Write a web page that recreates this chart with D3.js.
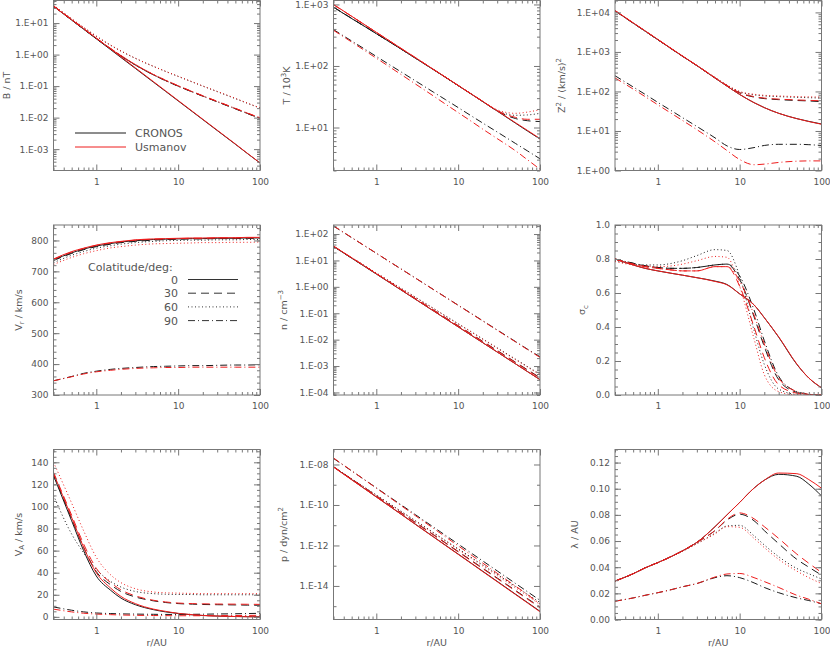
<!DOCTYPE html>
<html>
<head>
<meta charset="utf-8">
<script src="https://cdn.jsdelivr.net/npm/d3@7"></script>
<style>
body { margin: 0; background: #fff; }
svg text { font-family: "DejaVu Sans", sans-serif; fill: #555; }
</style>
</head>
<body>
<div id="chart"></div>
<script>
const width = 830, height = 648;

// heliocentric distances (AU) at which every profile is sampled
const radii = [0.3, 0.5, 0.7, 1, 1.5, 2, 3, 5, 7, 10, 15, 20, 30, 50, 70, 100];
const colatitudes = ["0", "30", "60", "90"];
const models = ["CRONOS", "Usmanov"];

// each panel: one row per colatitude (0, 30, 60, 90 deg)
const bCronos = [
	[34, 12.4, 6.4, 3.17, 1.43, 0.81, 0.364, 0.133, 0.0686, 0.034, 0.0153, 0.00867, 0.0039, 0.00143, 7.3e-4, 3.64e-4],
	[34.8, 12.6, 6.51, 3.26, 1.52, 0.911, 0.47, 0.227, 0.15, 0.1, 0.0649, 0.0482, 0.0319, 0.0191, 0.0136, 0.0095],
	[36.5, 13.5, 7.19, 3.8, 1.96, 1.29, 0.757, 0.42, 0.293, 0.203, 0.134, 0.1, 0.0668, 0.04, 0.0286, 0.02],
	[34.5, 12.5, 6.45, 3.22, 1.5, 0.9, 0.465, 0.225, 0.149, 0.099, 0.0645, 0.048, 0.0318, 0.019, 0.0135, 0.0094]
];
const bUsmanov = [
	[34, 12.8, 6.7, 3.35, 1.5, 0.85, 0.38, 0.138, 0.071, 0.035, 0.0157, 0.0089, 0.004, 0.00146, 7.4e-4, 3.65e-4],
	[35, 12.8, 6.6, 3.3, 1.55, 0.93, 0.48, 0.232, 0.153, 0.102, 0.066, 0.049, 0.0325, 0.0195, 0.0139, 0.0098],
	[37, 13.8, 7.35, 3.9, 2.0, 1.31, 0.77, 0.425, 0.296, 0.205, 0.136, 0.101, 0.068, 0.041, 0.029, 0.0205],
	[35.2, 12.9, 6.65, 3.32, 1.56, 0.94, 0.485, 0.234, 0.155, 0.103, 0.067, 0.0495, 0.033, 0.0197, 0.014, 0.0099]
];

const tCronos = [
	[900, 590, 450, 335, 240, 189, 134, 87, 65.5, 48, 33.8, 26.3, 18.5, 11.8, 8.8, 6.5],
	[910, 595, 452, 337, 241, 190, 135, 87.5, 65.5, 48.2, 34, 26.5, 18.6, 14.0, 12.9, 12.5],
	[905, 592, 451, 336, 240, 189, 134, 87.2, 65.5, 48.1, 34, 26.5, 18.9, 15.8, 16, 17],
	[390, 255, 193, 143, 102, 80.4, 57.4, 37.5, 28.4, 21.1, 15.0, 11.8, 8.45, 5.52, 4.18, 3.1]
];
const tUsmanov = [
	[1000, 643, 481, 353, 249, 194, 137, 87.9, 65.8, 48.3, 34, 26.5, 18.7, 12, 9, 6.6],
	[990, 640, 479, 352, 248, 193.5, 136.5, 87.8, 65.8, 48.3, 34, 26.6, 18.8, 14.6, 13.6, 13.6],
	[995, 641, 480, 352, 248, 194, 137, 88, 65.9, 48.4, 34.1, 26.7, 19.4, 17.0, 17.8, 19.5],
	[380, 245, 183, 134, 94, 73, 51, 32.5, 24, 17.5, 12.2, 9.4, 6.6, 4.2, 3.0, 2.1]
];

const zCronos = [
	[11000, 5370, 3370, 2050, 1160, 780, 450, 218, 136, 84, 52, 39, 28, 20.5, 17.5, 15],
	[10900, 5350, 3360, 2040, 1155, 778, 450, 220, 140, 92, 72, 66, 62, 59, 57.5, 55],
	[10800, 5330, 3350, 2035, 1150, 776, 452, 224, 144, 98, 82, 77, 74, 71, 69.5, 68],
	[250, 130, 84.5, 53, 31.6, 21.8, 13, 6.7, 4.2, 3.4, 3.8, 4.3, 4.6, 4.6, 4.5, 4.3]
];
const zUsmanov = [
	[11200, 5450, 3420, 2080, 1175, 790, 455, 220, 137, 84, 52, 39, 28, 20.5, 17.3, 14.8],
	[11100, 5420, 3400, 2070, 1170, 786, 454, 222, 141, 93, 74, 68, 64, 61, 59.5, 58],
	[11000, 5400, 3390, 2060, 1165, 784, 455, 226, 146, 100, 85, 80, 77, 74, 73, 72],
	[220, 115, 74, 46, 27, 18.5, 10.8, 5.3, 3.2, 1.9, 1.4, 1.45, 1.6, 1.72, 1.75, 1.75]
];

const vrCronos = [
	[737, 760, 772, 782, 790, 795, 799, 803, 804, 805, 806, 806, 807, 807, 808, 808],
	[735, 758, 770, 780, 788, 793, 797, 801, 803, 804, 805, 805, 806, 806, 807, 807],
	[728, 752, 764, 775, 783, 788, 793, 797, 799, 800, 801, 801, 802, 802, 803, 803],
	[346, 360, 370, 377, 383, 386, 389, 392, 393, 394, 395, 395, 396, 397, 397, 398]
];
const vrUsmanov = [
	[740, 764, 775, 785, 793, 797, 802, 805, 806, 807, 808, 808, 809, 809, 810, 810],
	[739, 762, 774, 784, 792, 796, 801, 804, 805, 806, 807, 807, 808, 808, 809, 809],
	[722, 745, 757, 767, 776, 780, 785, 789, 790, 791, 792, 793, 793, 794, 794, 795],
	[346, 359, 368, 375, 380, 383, 386, 388, 389, 389, 390, 390, 390, 390, 390, 390]
];

const nCronos = [
	[34, 12.2, 6.24, 3.06, 1.36, 0.765, 0.34, 0.122, 0.0624, 0.0306, 0.0136, 0.00765, 0.0034, 0.00122, 6.24e-4, 3.06e-4],
	[34, 12.3, 6.35, 3.15, 1.42, 0.8, 0.36, 0.132, 0.068, 0.0337, 0.0152, 0.0086, 0.00388, 0.00141, 7.3e-4, 3.65e-4],
	[34, 12.7, 6.7, 3.36, 1.55, 0.89, 0.408, 0.153, 0.08, 0.0405, 0.0186, 0.0107, 0.0049, 0.00184, 9.7e-4, 4.9e-4],
	[200, 73, 37.7, 18.7, 8.4, 4.79, 2.16, 0.789, 0.408, 0.202, 0.0912, 0.0518, 0.0233, 0.00853, 0.0044, 0.00225]
];
const nUsmanov = [
	[35, 12.6, 6.4, 3.12, 1.38, 0.775, 0.343, 0.123, 0.0627, 0.0307, 0.0136, 0.00766, 0.0034, 0.00122, 6.2e-4, 3.05e-4],
	[35, 12.7, 6.5, 3.2, 1.43, 0.805, 0.36, 0.131, 0.067, 0.0332, 0.0149, 0.0084, 0.00377, 0.00137, 7.0e-4, 3.5e-4],
	[34.5, 12.8, 6.7, 3.33, 1.53, 0.875, 0.4, 0.149, 0.078, 0.0392, 0.018, 0.0103, 0.0047, 0.00176, 9.2e-4, 4.6e-4],
	[205, 74, 38, 18.8, 8.4, 4.78, 2.15, 0.783, 0.404, 0.199, 0.0895, 0.0507, 0.0227, 0.0083, 0.00426, 0.00212]
];

const scCronos = [
	[0.80, 0.765, 0.745, 0.73, 0.715, 0.705, 0.69, 0.67, 0.65, 0.595, 0.53, 0.455, 0.34, 0.18, 0.10, 0.042],
	[0.80, 0.775, 0.76, 0.75, 0.745, 0.745, 0.75, 0.765, 0.77, 0.68, 0.46, 0.285, 0.09, 0.015, 0.003, 0],
	[0.79, 0.77, 0.765, 0.765, 0.775, 0.79, 0.82, 0.855, 0.85, 0.70, 0.38, 0.18, 0.035, 0.003, 0, 0],
	[0.80, 0.775, 0.76, 0.75, 0.745, 0.745, 0.75, 0.765, 0.77, 0.70, 0.50, 0.32, 0.11, 0.02, 0.005, 0]
];
const scUsmanov = [
	[0.80, 0.765, 0.745, 0.73, 0.715, 0.705, 0.69, 0.668, 0.648, 0.595, 0.53, 0.455, 0.342, 0.182, 0.10, 0.043],
	[0.80, 0.77, 0.755, 0.745, 0.735, 0.73, 0.73, 0.755, 0.755, 0.64, 0.40, 0.22, 0.06, 0.01, 0, 0],
	[0.785, 0.765, 0.76, 0.755, 0.76, 0.77, 0.79, 0.815, 0.81, 0.64, 0.33, 0.12, 0.02, 0, 0, 0],
	[0.80, 0.77, 0.755, 0.745, 0.735, 0.73, 0.73, 0.755, 0.755, 0.67, 0.47, 0.30, 0.10, 0.02, 0.004, 0]
];

const vaCronos = [
	[128, 87, 60, 37, 24, 17, 11, 6.5, 4.5, 3, 1.8, 1.2, 0.7, 0.3, 0.15, 0.1],
	[129, 89, 63, 41, 29, 23, 18, 14.5, 13, 12, 11.5, 11.2, 11, 10.8, 10.6, 10.5],
	[110, 75, 58, 43, 32, 27, 23, 21, 20.5, 20.3, 20.2, 20, 20, 20, 20, 20],
	[9, 6, 4.5, 3.5, 3, 2.7, 2.5, 2.3, 2.2, 2.2, 2.3, 2.4, 2.6, 2.8, 3.0, 3.2]
];
const vaUsmanov = [
	[130, 90, 63, 40, 26, 18.5, 12, 7, 5, 3.2, 2, 1.3, 0.7, 0.3, 0.1, 0],
	[131, 92, 66, 44, 31, 24.5, 19, 15, 13.5, 12.5, 12, 11.8, 11.6, 11.5, 11.4, 11.3],
	[140, 103, 78, 54, 38, 31, 25.5, 22.5, 21.8, 21.5, 21.2, 21, 21, 21, 21, 21],
	[7, 4.5, 3.3, 2.5, 2, 1.7, 1.4, 1.2, 1.1, 1, 1, 1, 1.1, 1.2, 1.3, 1.4]
];

const pCronos = [
	[7.6e-9, 1.79e-9, 6.93e-10, 2.52e-10, 8.04e-11, 3.56e-11, 1.13e-11, 2.67e-12, 1.03e-12, 3.77e-13, 1.2e-13, 5.31e-14, 1.69e-14, 3.97e-15, 1.54e-15, 5.6e-16],
	[7.8e-9, 1.9e-9, 7.57e-10, 2.83e-10, 9.3e-11, 4.22e-11, 1.38e-11, 3.4e-12, 1.35e-12, 5.05e-13, 1.66e-13, 7.5e-14, 2.47e-14, 6.05e-15, 2.4e-15, 9e-16],
	[7.8e-9, 1.99e-9, 8.15e-10, 3.15e-10, 1.07e-10, 4.99e-11, 1.7e-11, 4.36e-12, 1.78e-12, 6.9e-13, 2.35e-13, 1.09e-13, 3.72e-14, 9.53e-15, 3.9e-15, 1.51e-15],
	[2e-8, 4.82e-9, 1.9e-9, 7.03e-10, 2.28e-10, 1.03e-10, 3.33e-11, 8.04e-12, 3.16e-12, 1.17e-12, 3.8e-13, 1.71e-13, 5.55e-14, 1.34e-14, 5.26e-15, 1.95e-15]
];
const pUsmanov = [
	[7.4e-9, 1.75e-9, 6.8e-10, 2.47e-10, 7.9e-11, 3.5e-11, 1.1e-11, 2.6e-12, 1.0e-12, 3.65e-13, 1.16e-13, 5.1e-14, 1.62e-14, 3.8e-15, 1.47e-15, 5.3e-16],
	[7.7e-9, 1.87e-9, 7.4e-10, 2.75e-10, 9.0e-11, 4.08e-11, 1.33e-11, 3.27e-12, 1.29e-12, 4.8e-13, 1.57e-13, 7.1e-14, 2.33e-14, 5.7e-15, 2.25e-15, 8.4e-16],
	[7.6e-9, 1.93e-9, 7.85e-10, 3.0e-10, 1.01e-10, 4.7e-11, 1.59e-11, 4.0e-12, 1.62e-12, 6.2e-13, 2.1e-13, 9.6e-14, 3.25e-14, 8.2e-15, 3.3e-15, 1.2e-15],
	[2.1e-8, 4.9e-9, 1.88e-9, 6.8e-10, 2.15e-10, 9.4e-11, 2.98e-11, 6.95e-12, 2.67e-12, 9.6e-13, 3.04e-13, 1.34e-13, 4.23e-14, 9.9e-15, 3.8e-15, 1.3e-15]
];

const lamCronos = [
	[0.0294, 0.035, 0.0395, 0.0435, 0.0485, 0.0525, 0.059, 0.071, 0.08, 0.0895, 0.1005, 0.1065, 0.111, 0.1095, 0.1035, 0.0945],
	[0.0294, 0.035, 0.0395, 0.0435, 0.0485, 0.0525, 0.059, 0.068, 0.076, 0.0805, 0.0755, 0.068, 0.058, 0.046, 0.04, 0.034],
	[0.0294, 0.035, 0.0395, 0.0435, 0.0485, 0.0522, 0.058, 0.066, 0.0715, 0.072, 0.064, 0.057, 0.048, 0.039, 0.035, 0.031],
	[0.014, 0.0165, 0.0185, 0.0205, 0.023, 0.025, 0.0275, 0.032, 0.0335, 0.032, 0.028, 0.0245, 0.0205, 0.0165, 0.0145, 0.012]
];
const lamUsmanov = [
	[0.0294, 0.035, 0.0395, 0.0435, 0.0485, 0.0525, 0.059, 0.071, 0.08, 0.0895, 0.1005, 0.1065, 0.112, 0.1115, 0.107, 0.1004],
	[0.0294, 0.035, 0.0395, 0.0435, 0.0485, 0.0525, 0.059, 0.068, 0.0765, 0.0815, 0.077, 0.071, 0.062, 0.05, 0.043, 0.036],
	[0.0294, 0.035, 0.0395, 0.0435, 0.0485, 0.0522, 0.058, 0.0655, 0.071, 0.0705, 0.062, 0.055, 0.046, 0.037, 0.032, 0.0275],
	[0.014, 0.0165, 0.0185, 0.0205, 0.023, 0.025, 0.0275, 0.0325, 0.0348, 0.0352, 0.032, 0.029, 0.0245, 0.0185, 0.0155, 0.012]
];

// axis ranges and tick labels
const xDomain = [0.3, 100];
const xTicks = [1, 10, 100];
const bDomain = [2.1e-4, 52], bTicks = [1e1, 1e0, 1e-1, 1e-2, 1e-3];
const tDomain = [2, 1160], tTicks = [1e3, 1e2, 1e1];
const zDomain = [1, 2e4], zTicks = [1e4, 1e3, 1e2, 1e1, 1e0];
const vrDomain = [300, 850], vrTicks = [300, 400, 500, 600, 700, 800];
const nDomain = [8e-5, 220], nTicks = [1e2, 1e1, 1e0, 1e-1, 1e-2, 1e-3, 1e-4];
const scDomain = [0, 1], scTicks = [0, 0.2, 0.4, 0.6, 0.8, 1.0];
const vaDomain = [-2.4, 151.6], vaTicks = [0, 20, 40, 60, 80, 100, 120, 140];
const pDomain = [2.2e-16, 5.5e-8], pTicks = [1e-8, 1e-10, 1e-12, 1e-14];
const lamDomain = [0, 0.13], lamTicks = [0, 0.02, 0.04, 0.06, 0.08, 0.10, 0.12];

const expFormat = (v) => {
	const e = Math.round(Math.log10(v));
	return "1.E" + (e < 0 ? "-" : "+") + String(Math.abs(e)).padStart(2, "0");
};

const panels = [
	{cronos: bCronos, usmanov: bUsmanov, log: true, domain: bDomain, ticks: bTicks, minor: "log", fmt: expFormat,
		title: [["B / nT"]], titleX: -44},
	{cronos: tCronos, usmanov: tUsmanov, log: true, domain: tDomain, ticks: tTicks, minor: "log", fmt: expFormat,
		title: [["T / 10"], ["3", "sup"], ["K"]], titleX: -44},
	{cronos: zCronos, usmanov: zUsmanov, log: true, domain: zDomain, ticks: zTicks, minor: "log", fmt: expFormat,
		title: [["Z"], ["2", "sup"], [" / (km/s)"], ["2", "sup"]], titleX: -50},
	{cronos: vrCronos, usmanov: vrUsmanov, log: false, domain: vrDomain, ticks: vrTicks, minor: 20, fmt: d3.format("d"),
		title: [["V"], ["r", "sub"], [" / km/s"]], titleX: -32},
	{cronos: nCronos, usmanov: nUsmanov, log: true, domain: nDomain, ticks: nTicks, minor: "log", fmt: expFormat,
		title: [["n / cm"], ["\u22123", "sup"]], titleX: -47},
	{cronos: scCronos, usmanov: scUsmanov, log: false, domain: scDomain, ticks: scTicks, minor: 0.05, fmt: d3.format(".1f"),
		title: [["\u03c3"], ["c", "sub"]], titleX: -30},
	{cronos: vaCronos, usmanov: vaUsmanov, log: false, domain: vaDomain, ticks: vaTicks, minor: 5, fmt: d3.format("d"),
		title: [["V"], ["A", "sub"], [" / km/s"]], titleX: -32},
	{cronos: pCronos, usmanov: pUsmanov, log: true, domain: pDomain, ticks: pTicks, minor: "decade", fmt: expFormat,
		title: [["p / dyn/cm"], ["2", "sup"]], titleX: -47},
	{cronos: lamCronos, usmanov: lamUsmanov, log: false, domain: lamDomain, ticks: lamTicks, minor: 0.005, fmt: d3.format(".2f"),
		title: [["\u03bb / AU"]], titleX: -37}
];

// layout
const colLeft = [53.5, 333.5, 615];
const rowTop = [0.5, 225, 449.5];
const plotW = 206.5, plotH = 170;
const modelColours = ["#1a1a1a", "#ee1c1c"];
const dashes = [null, "8,5", "1,2.5", "7,3,1,3"];
const frameColour = "#777";

const svg = d3.select("#chart")
	.append("svg")
	.attr("width", width)
	.attr("height", height);

function logMinor(domain) {
	const out = [];
	for (let e = -17; e <= 5; e++) {
		for (let m = 2; m <= 9; m++) {
			const v = m * Math.pow(10, e);
			if (v >= domain[0] && v <= domain[1]) out.push(v);
		}
	}
	return out;
}

function decadeMinor(domain, major) {
	const out = [];
	for (let e = -17; e <= 5; e++) {
		const v = Math.pow(10, e);
		if (v >= domain[0] && v <= domain[1] && !major.some((m) => Math.abs(Math.log10(m) - e) < 1e-6)) out.push(v);
	}
	return out;
}

function linearMinor(domain, step) {
	const out = [];
	const start = Math.ceil(domain[0] / step - 1e-9);
	for (let k = start; k * step <= domain[1] + 1e-9; k++) out.push(+(k * step).toFixed(6));
	return out;
}

const xMinor = logMinor(xDomain);

panels.forEach(function(p, i) {
	const col = i % 3, row = Math.floor(i / 3);
	const g = svg.append("g")
		.attr("transform", `translate(${colLeft[col]},${rowTop[row]})`);

	const x = d3.scaleLog().domain(xDomain).range([0, plotW]);
	const y = (p.log ? d3.scaleLog() : d3.scaleLinear()).domain(p.domain).range([plotH, 0]);

	const clipId = "clip" + i;
	g.append("clipPath").attr("id", clipId)
		.append("rect").attr("width", plotW).attr("height", plotH);

	const line = d3.line()
		.x((v, j) => x(radii[j]))
		.y((v) => y(v))
		.curve(d3.curveMonotoneX);

	[p.cronos, p.usmanov].forEach(function(set, m) {
		set.forEach(function(vals, k) {
			g.append("path")
				.datum(vals)
				.attr("clip-path", `url(#${clipId})`)
				.attr("d", line)
				.attr("fill", "none")
				.attr("stroke", modelColours[m])
				.attr("stroke-width", 1)
				.attr("stroke-dasharray", dashes[k]);
		});
	});

	// minor ticks
	const yMinor = p.minor === "log" ? logMinor(p.domain)
		: p.minor === "decade" ? decadeMinor(p.domain, p.ticks)
		: linearMinor(p.domain, p.minor);

	const axes = g.append("g").attr("color", frameColour);

	axes.append("g").attr("transform", `translate(0,${plotH})`)
		.call(d3.axisBottom(x).tickValues(xMinor).tickSize(-3).tickFormat(""));
	axes.append("g")
		.call(d3.axisTop(x).tickValues(xMinor).tickSize(-3).tickFormat(""));
	axes.append("g")
		.call(d3.axisLeft(y).tickValues(yMinor).tickSize(-3).tickFormat(""));
	axes.append("g").attr("transform", `translate(${plotW},0)`)
		.call(d3.axisRight(y).tickValues(yMinor).tickSize(-3).tickFormat(""));

	// major ticks with labels
	axes.append("g").attr("transform", `translate(0,${plotH})`)
		.call(d3.axisBottom(x).tickValues(xTicks).tickSize(-6).tickPadding(8).tickFormat(d3.format("d")));
	axes.append("g")
		.call(d3.axisTop(x).tickValues(xTicks).tickSize(-6).tickFormat(""));
	axes.append("g")
		.call(d3.axisLeft(y).tickValues(p.ticks).tickSize(-6).tickPadding(5).tickFormat(p.fmt));
	axes.append("g").attr("transform", `translate(${plotW},0)`)
		.call(d3.axisRight(y).tickValues(p.ticks).tickSize(-6).tickFormat(""));

	axes.selectAll(".domain").remove();
	axes.selectAll("g").attr("font-size", 9).attr("font-family", null);

	g.append("rect")
		.attr("width", plotW)
		.attr("height", plotH)
		.attr("fill", "none")
		.attr("stroke", frameColour);

	// y title, rotated
	const title = g.append("text")
		.attr("transform", `translate(${p.titleX},${plotH / 2}) rotate(-90)`)
		.attr("text-anchor", "middle")
		.attr("dy", "0.35em")
		.attr("font-size", 9.5);
	let shift = 0;
	p.title.forEach(function(part) {
		const mode = part[1];
		const target = mode === "sup" ? -4 : mode === "sub" ? 2.5 : 0;
		title.append("tspan")
			.attr("dy", target - shift)
			.attr("font-size", mode ? 7 : 9.5)
			.text(part[0]);
		shift = target;
	});

	if (row === 2) {
		g.append("text")
			.attr("x", plotW / 2)
			.attr("y", plotH + 26)
			.attr("text-anchor", "middle")
			.attr("font-size", 9.5)
			.text("r/AU");
	}

	// legends
	if (i === 0) {
		models.forEach(function(name, m) {
			const ly = 132.5 + m * 14;
			g.append("line")
				.attr("x1", 21.5).attr("x2", 72.5)
				.attr("y1", ly).attr("y2", ly)
				.attr("stroke", modelColours[m]);
			g.append("text")
				.attr("x", 81.5).attr("y", ly + 4)
				.attr("font-size", 11)
				.text(name);
		});
	}
	if (i === 3) {
		g.append("text")
			.attr("x", 34.5).attr("y", 46)
			.attr("font-size", 11)
			.text("Colatitude/deg:");
		colatitudes.forEach(function(c, k) {
			const ly = 54.5 + k * 13.7;
			g.append("text")
				.attr("x", 124.5).attr("y", ly + 4)
				.attr("text-anchor", "end")
				.attr("font-size", 11)
				.text(c);
			g.append("line")
				.attr("x1", 134.5).attr("x2", 184.5)
				.attr("y1", ly).attr("y2", ly)
				.attr("stroke", "#333")
				.attr("stroke-dasharray", dashes[k]);
		});
	}
});
</script>
</body>
</html>
